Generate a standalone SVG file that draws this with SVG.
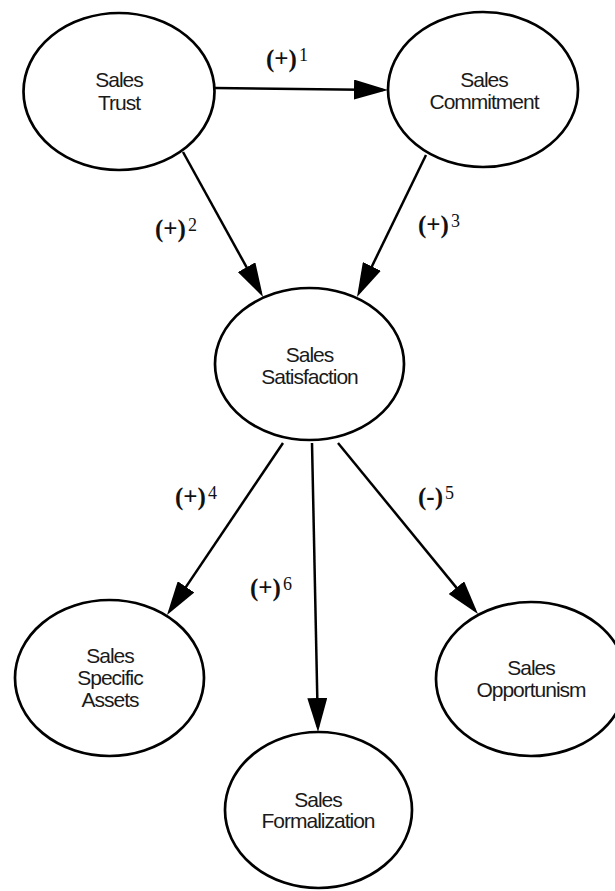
<svg xmlns="http://www.w3.org/2000/svg" width="615" height="891" viewBox="0 0 615 891">
<style>
.node ellipse{fill:#fff;stroke:#000;stroke-width:2.7}
.node text{font-family:"Liberation Sans",Arial,sans-serif;font-size:21px;letter-spacing:-1px;fill:#1a1a1a;text-anchor:middle}
.edge{stroke:#000;stroke-width:2.5;fill:none;marker-end:url(#ah)}
.lbl{font-family:"Liberation Serif","DejaVu Serif",serif;font-weight:bold;font-size:25px;fill:#111}
.sup{font-size:18px;font-weight:normal}
</style>
<defs>
<marker id="ah" markerUnits="userSpaceOnUse" markerWidth="34" markerHeight="20" refX="29" refY="10" orient="auto" viewBox="0 0 34 20">
<path d="M0,0 L34,10 L0,20 z" fill="#000"/>
</marker>
</defs>
<rect width="615" height="891" fill="#fff"/>
<g id="connectors">
<line class="edge" x1="215" y1="88" x2="383" y2="89.9"/>
<line class="edge" x1="183" y1="152" x2="260.6" y2="292.6"/>
<line class="edge" x1="426" y1="155" x2="359.2" y2="292.5"/>
<line class="edge" x1="283" y1="443" x2="169.8" y2="610.9"/>
<line class="edge" x1="312" y1="443" x2="317.9" y2="727"/>
<line class="edge" x1="338" y1="443" x2="474.8" y2="610.1"/>
</g>
<g id="labels">
<text class="lbl" x="266" y="67">(+)<tspan class="sup" dx="2" dy="-6">1</tspan></text>
<text class="lbl" x="155" y="237">(+)<tspan class="sup" dx="2" dy="-6">2</tspan></text>
<text class="lbl" x="418" y="233">(+)<tspan class="sup" dx="2" dy="-6">3</tspan></text>
<text class="lbl" x="175" y="505">(+)<tspan class="sup" dx="2" dy="-6">4</tspan></text>
<text class="lbl" x="418" y="505">(-)<tspan class="sup" dx="2" dy="-6">5</tspan></text>
<text class="lbl" x="250" y="596">(+)<tspan class="sup" dx="2" dy="-6">6</tspan></text>
</g>
<g id="trust" class="node">
<ellipse cx="119" cy="91.5" rx="95.5" ry="78.5"/>
<text x="119" y="87">Sales</text><text x="119" y="110">Trust</text>
</g>
<g id="commitment" class="node">
<ellipse cx="483" cy="89.5" rx="95" ry="77.5"/>
<text x="484" y="87">Sales</text><text x="484" y="109">Commitment</text>
</g>
<g id="satisfaction" class="node">
<ellipse cx="309.5" cy="364" rx="94.5" ry="76"/>
<text x="309.5" y="362">Sales</text><text x="309.5" y="384">Satisfaction</text>
</g>
<g id="specific-assets" class="node">
<ellipse cx="109.5" cy="678" rx="94.5" ry="78"/>
<text x="110" y="663">Sales</text><text x="110" y="685">Specific</text><text x="110" y="707">Assets</text>
</g>
<g id="opportunism" class="node">
<ellipse cx="531" cy="679" rx="95" ry="77"/>
<text x="531" y="675">Sales</text><text x="531" y="697">Opportunism</text>
</g>
<g id="formalization" class="node">
<ellipse cx="318.5" cy="810" rx="93.5" ry="78"/>
<text x="318" y="807">Sales</text><text x="318" y="828">Formalization</text>
</g>
</svg>
